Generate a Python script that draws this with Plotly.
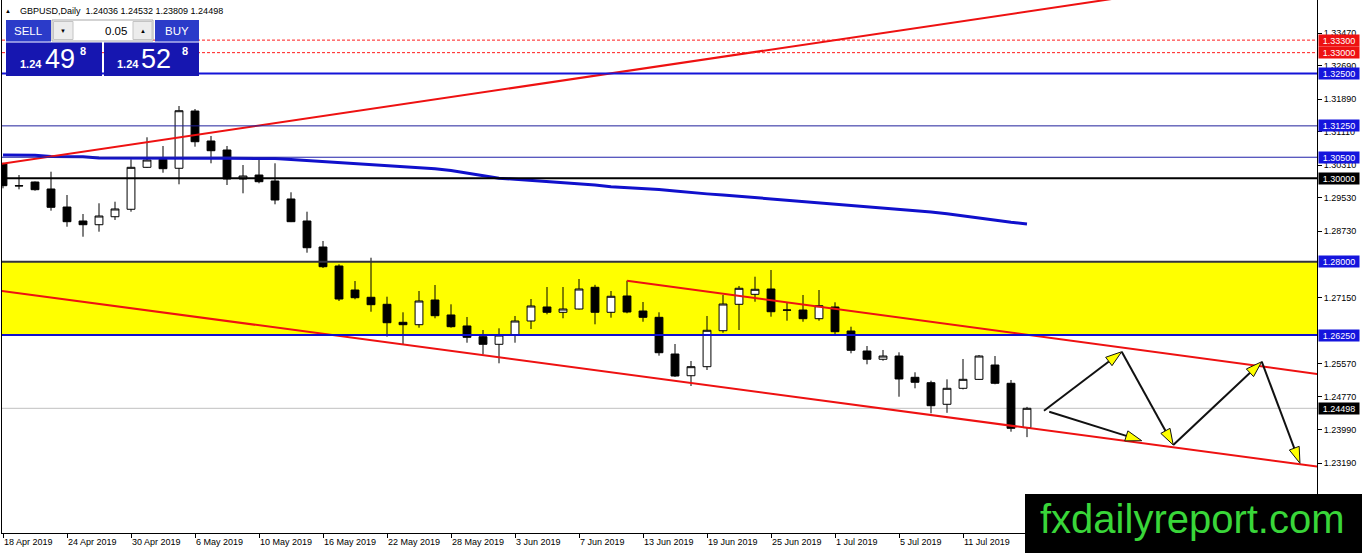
import numpy as np
import pandas as pd
import plotly.graph_objects as go

# ---------------- data ----------------
dates = pd.bdate_range("2019-04-18", periods=65)

opens = [1.30338, 1.29820, 1.29908, 1.29741, 1.29310, 1.28976, 1.28887, 1.29078, 1.29256, 1.30259,
         1.30451, 1.30236, 1.31605, 1.30888, 1.30673, 1.29980, 1.30075, 1.29932, 1.29502, 1.28976,
         1.28354, 1.27900, 1.27326, 1.27152, 1.26984, 1.26554, 1.26497, 1.27087, 1.26729, 1.26466,
         1.26210, 1.26028, 1.26250, 1.26585, 1.26920, 1.26793, 1.26872, 1.27391, 1.26793, 1.27183,
         1.26824, 1.26673, 1.25796, 1.25277, 1.25493, 1.26353, 1.26984, 1.27223, 1.27350, 1.26848,
         1.26848, 1.26640, 1.26920, 1.26346, 1.25868, 1.25670, 1.25748, 1.25239, 1.25110, 1.24594,
         1.24976, 1.25190, 1.25533, 1.25096, 1.24036]
highs = [1.30369, 1.30075, 1.29920, 1.30154, 1.29597, 1.29143, 1.29399, 1.29437, 1.30451, 1.30977,
         1.30769, 1.31725, 1.31653, 1.31008, 1.30769, 1.30314, 1.30434, 1.30355, 1.29662, 1.29198,
         1.28498, 1.27940, 1.27541, 1.28098, 1.27166, 1.26793, 1.27302, 1.27446, 1.26984, 1.26681,
         1.26370, 1.26410, 1.26705, 1.27111, 1.27398, 1.27398, 1.27589, 1.27450, 1.27302, 1.27549,
         1.27039, 1.26793, 1.26035, 1.25629, 1.26705, 1.27207, 1.27422, 1.27644, 1.27804, 1.27023,
         1.27207, 1.27326, 1.27032, 1.26449, 1.25987, 1.25892, 1.25837, 1.25359, 1.25158, 1.25191,
         1.25677, 1.25772, 1.25748, 1.25175, 1.24532]
lows = [1.29757, 1.29733, 1.29700, 1.29222, 1.28839, 1.28600, 1.28720, 1.29000, 1.29198, 1.30245,
        1.30130, 1.29853, 1.30752, 1.30355, 1.29836, 1.29638, 1.29877, 1.29375, 1.28950, 1.28218,
        1.27852, 1.27063, 1.27104, 1.26807, 1.26210, 1.26028, 1.26425, 1.26650, 1.26425, 1.26066,
        1.25789, 1.25574, 1.26066, 1.26394, 1.26745, 1.26650, 1.26860, 1.26506, 1.26664, 1.26770,
        1.26568, 1.25756, 1.25250, 1.25031, 1.25414, 1.26305, 1.26370, 1.27046, 1.26688, 1.26592,
        1.26568, 1.26592, 1.26274, 1.25813, 1.25550, 1.25636, 1.24775, 1.24976, 1.24378, 1.24390,
        1.24950, 1.25175, 1.25072, 1.23939, 1.23809]
closes = [1.29820, 1.29815, 1.29724, 1.29303, 1.28959, 1.28887, 1.29095, 1.29263, 1.30259, 1.30434,
          1.30226, 1.31612, 1.30871, 1.30656, 1.29980, 1.30051, 1.29915, 1.29478, 1.28959, 1.28337,
          1.27883, 1.27111, 1.27142, 1.26975, 1.26544, 1.26497, 1.27063, 1.26712, 1.26449, 1.26195,
          1.26028, 1.26250, 1.26585, 1.26944, 1.26793, 1.26872, 1.27350, 1.26793, 1.27176, 1.26800,
          1.26673, 1.25827, 1.25270, 1.25493, 1.26363, 1.26991, 1.27367, 1.27343, 1.26807, 1.26845,
          1.26640, 1.26951, 1.26329, 1.25885, 1.25670, 1.25748, 1.25199, 1.25120, 1.24560, 1.24976,
          1.25191, 1.25748, 1.25096, 1.24020, 1.24498]

ma_values = [1.30553, 1.30553, 1.30546, 1.30518, 1.30513, 1.30511, 1.30482, 1.30479, 1.30478, 1.30478,
             1.30477, 1.30477, 1.30477, 1.30476, 1.30476, 1.30475, 1.30474, 1.30467, 1.30446, 1.30422,
             1.30403, 1.30379, 1.30350, 1.30319, 1.30290, 1.30271, 1.30255, 1.30226, 1.30183, 1.30123,
             1.30051, 1.29999, 1.29973, 1.29949, 1.29925, 1.29901, 1.29872, 1.29836, 1.29793, 1.29774,
             1.29755, 1.29729, 1.29693, 1.29650, 1.29624, 1.29597, 1.29566, 1.29537, 1.29511, 1.29480,
             1.29449, 1.29418, 1.29392, 1.29360, 1.29332, 1.29301, 1.29265, 1.29227, 1.29191, 1.29148,
             1.29095, 1.29043, 1.28990, 1.28945, 1.28904]

y_tick_values = [1.3347, 1.3269, 1.3189, 1.3111, 1.3031, 1.2953, 1.2873,
                 1.2715, 1.2557, 1.2477, 1.2399, 1.2319, 1.2239]

# horizontal levels: price, line colour, width, dash, label colour
level_prices = [1.3330, 1.3300, 1.3250, 1.3125, 1.3050, 1.3000, 1.2800, 1.2625]
level_colors = ["#ff1a1a", "#ff1a1a", "#1414d8", "#20209c", "#2020a8", "#000000", "#33333f", "#1010cc"]
level_widths = [1, 1, 2, 1, 1, 2, 2, 2]
level_dash = ["3px,2px", "3px,2px", "solid", "solid", "solid", "solid", "solid", "solid"]
level_label_bg = ["#ee1111", "#ee1111", "#1515dd", "#1515dd", "#1515dd", "#000000", "#1515dd", "#1515dd"]

zone_low, zone_high = 1.2625, 1.2800
bid_price = 1.24498

# trend lines (bar index, price anchors)
up_trend_x, up_trend_p = [0, 66], [1.30348, 1.34096]
low_channel_x, low_channel_p = [0, 80], [1.27300, 1.23214]
up_channel_x, up_channel_p = [39, 80], [1.27548, 1.25430]

# projection arrows (bar index, price)
arrow_x0 = [65.06, 65.39, 69.92, 73.14, 78.67]
arrow_p0 = [1.24441, 1.24417, 1.25851, 1.23621, 1.25612]
arrow_x1 = [69.92, 71.17, 73.14, 78.67, 81.06]
arrow_p1 = [1.25851, 1.23723, 1.23621, 1.25612, 1.23183]

header_text = "GBPUSD,Daily  1.24036 1.24532 1.23809 1.24498"

# ---------------- figure ----------------
idx = np.arange(len(opens))
FONT = "Liberation Sans"
W, H = 1362, 553
ML, MR, MT, MB = 2, 45, 0, 20
PW, PH = W - ML - MR, H - MT - MB


def fx(px):
    return (px - ML) / PW


def fy(py):
    return 1 - (py - MT) / PH


fig = go.Figure()

fig.add_trace(go.Candlestick(
    x=idx, open=opens, high=highs, low=lows, close=closes,
    increasing=dict(line=dict(color="black", width=1), fillcolor="white"),
    decreasing=dict(line=dict(color="black", width=1), fillcolor="black"),
    whiskerwidth=0, hoverinfo="skip", showlegend=False,
))

fig.add_trace(go.Scatter(x=idx, y=ma_values, mode="lines",
                         line=dict(color="#1010cc", width=3), hoverinfo="skip", showlegend=False))


def ext_line(xs, ps, x_from, x_to):
    m = (ps[1] - ps[0]) / (xs[1] - xs[0])
    return [x_from, x_to], [ps[0] + m * (x_from - xs[0]), ps[0] + m * (x_to - xs[0])]


for xs, ps, a, b in [(up_trend_x, up_trend_p, -1, 72),
                     (low_channel_x, low_channel_p, -1, 84),
                     (up_channel_x, up_channel_p, 39, 84)]:
    lx, ly = ext_line(xs, ps, a, b)
    fig.add_trace(go.Scatter(x=lx, y=ly, mode="lines", line=dict(color="#ee1111", width=2),
                             hoverinfo="skip", showlegend=False))

for x0, p0, x1, p1 in zip(arrow_x0, arrow_p0, arrow_x1, arrow_p1):
    fig.add_trace(go.Scatter(
        x=[x0, x1], y=[p0, p1], mode="lines+markers",
        line=dict(color="#111111", width=2),
        marker=dict(symbol="arrow", size=17, angleref="previous", color="#ffff00",
                    line=dict(color="#111111", width=1)),
        hoverinfo="skip", showlegend=False))

shapes = []
annotations = []

# yellow zone
shapes.append(dict(type="rect", xref="paper", yref="y", x0=0, x1=1, y0=zone_low, y1=zone_high,
                   fillcolor="#ffff00", line=dict(width=0), layer="below"))
# bid line
shapes.append(dict(type="line", xref="paper", yref="y", x0=0, x1=1, y0=bid_price, y1=bid_price,
                   line=dict(color="#c0c0c0", width=1), layer="below"))
annotations.append(dict(xref="paper", yref="y", x=1, y=bid_price, xanchor="left", xshift=1,
                        text=f"{bid_price:.5f}", showarrow=False, bgcolor="#000000",
                        width=40, height=11, borderpad=0,
                        font=dict(family=FONT, size=9, color="white")))

for p, c, w, d, bg in zip(level_prices, level_colors, level_widths, level_dash, level_label_bg):
    shapes.append(dict(type="line", xref="paper", yref="y", x0=0, x1=1, y0=p, y1=p,
                       line=dict(color=c, width=w, dash=d), layer="above"))
    annotations.append(dict(xref="paper", yref="y", x=1, y=p, xanchor="left", xshift=1,
                            text=f"{p:.5f}", showarrow=False, bgcolor=bg,
                            width=40, height=11, borderpad=0,
                            font=dict(family=FONT, size=9, color="white")))


def prect(x0, y0, x1, y1, fill, line_color=None, lw=0):
    shapes.append(dict(type="rect", xref="paper", yref="paper", x0=fx(x0), x1=fx(x1),
                       y0=fy(y1), y1=fy(y0), fillcolor=fill,
                       line=dict(color=line_color or fill, width=lw), layer="above"))


def ptext(x, y, text, size, color, xanchor="center", bold=False):
    annotations.append(dict(xref="paper", yref="paper", x=fx(x), y=fy(y), text=text,
                            showarrow=False, xanchor=xanchor, yanchor="middle",
                            font=dict(family=FONT, size=size, color=color,
                                      weight="bold" if bold else "normal")))


# one-click trading panel
prect(6, 20, 51, 41.5, "#2b3bc9")
prect(155, 20, 199, 41.5, "#2b3bc9")
prect(52, 20, 153, 41, "#ffffff", "#a8a8a8", 1)
prect(53.5, 21.5, 73, 39.5, "#ececec", "#c4c4c4", 1)
prect(133, 21.5, 152, 39.5, "#ececec", "#c4c4c4", 1)
prect(6, 42.5, 102, 76, "#1616b0")
prect(104, 42.5, 199, 76, "#1616b0")
shapes.append(dict(type="line", xref="paper", yref="paper", x0=fx(10), x1=fx(48), y0=fy(41.8), y1=fy(41.8),
                   line=dict(color="#8a92e6", width=1), layer="above"))
shapes.append(dict(type="line", xref="paper", yref="paper", x0=fx(158), x1=fx(196), y0=fy(41.8), y1=fy(41.8),
                   line=dict(color="#8a92e6", width=1), layer="above"))

ptext(28.5, 31, "SELL", 11.5, "white")
ptext(177, 31, "BUY", 11.5, "white")
ptext(129, 31, "0.05", 11.5, "black", xanchor="right")
ptext(63, 31, "▼", 6, "black")
ptext(142.5, 31, "▲", 6, "black")
ptext(30.5, 64, "1.24", 11, "white", bold=True)
ptext(60, 59, "49", 27, "white")
ptext(82.5, 51, "8", 11, "white", bold=True)
ptext(128, 64, "1.24", 11, "white", bold=True)
ptext(156, 59, "52", 27, "white")
ptext(184.5, 51, "8", 11, "white", bold=True)

# header
ptext(8, 10.5, "▲", 6, "black")
ptext(18, 11, header_text, 9, "black", xanchor="left")

# watermark
shapes.append(dict(type="rect", xref="paper", yref="paper", x0=fx(1025), x1=fx(1362),
                   y0=fy(553), y1=fy(494), fillcolor="#000000", line=dict(width=0), layer="above"))
ptext(1192.5, 519, "fxdailyreport.com", 40, "#39d639")

tick_idx = list(idx[::4][:16])
tick_txt = [f"{dates[i].day} {dates[i].strftime('%b %Y')}" for i in tick_idx]

fig.update_layout(
    template="none",
    width=W, height=H,
    margin=dict(l=ML, r=MR, t=MT, b=MB, pad=0),
    paper_bgcolor="white", plot_bgcolor="white",
    showlegend=False,
    font=dict(family=FONT, size=9, color="black"),
    shapes=shapes, annotations=annotations,
    xaxis=dict(range=[-0.0625, 82.125], tickvals=tick_idx, ticktext=tick_txt,
               ticks="outside", ticklen=4, tickcolor="black", showline=True, linecolor="black",
               linewidth=1, showgrid=False, zeroline=False, ticklabelposition="outside right",
               tickfont=dict(family=FONT, size=9, color="black"), rangeslider=dict(visible=False),
               automargin=False, fixedrange=True),
    yaxis=dict(side="right", range=[1.21517, 1.34259], tickvals=y_tick_values,
               ticktext=[f"{v:.5f}" for v in y_tick_values], ticks="outside", ticklen=4,
               tickcolor="black", showline=True, mirror=True, linecolor="black", linewidth=1,
               showgrid=False, zeroline=False, tickfont=dict(family=FONT, size=9, color="black"),
               automargin=False, fixedrange=True),
)

fig.write_html("out.html", config={"displayModeBar": False},
               post_script="document.body.style.margin='0';document.body.style.overflow='hidden';")
